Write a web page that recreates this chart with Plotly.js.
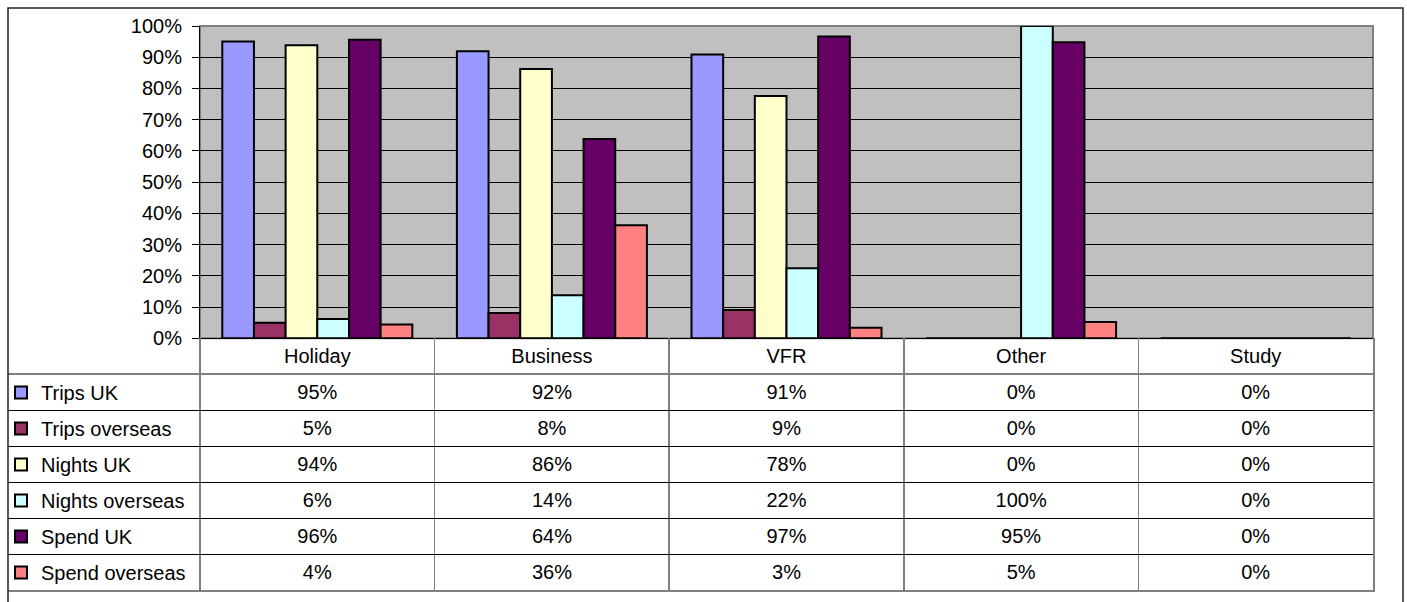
<!DOCTYPE html>
<html>
<head>
<meta charset="utf-8">
<script src="https://cdn.plot.ly/plotly-3.0.1.min.js"></script>
<style>
  html, body { margin: 0; padding: 0; background: #ffffff; }
  #chart { width: 1407px; height: 602px; }
</style>
</head>
<body>
<div id="chart"></div>
<script>
// ---- Data ----
var categories = ['Holiday', 'Business', 'VFR', 'Other', 'Study'];
var seriesNames = ['Trips UK', 'Trips overseas', 'Nights UK', 'Nights overseas', 'Spend UK', 'Spend overseas'];
var tripsUK        = [95.0, 91.9, 90.9, 0, 0];
var tripsOverseas  = [5.0, 8.1, 9.1, 0, 0];
var nightsUK       = [93.8, 86.2, 77.6, 0, 0];
var nightsOverseas = [6.2, 13.8, 22.4, 100, 0];
var spendUK        = [95.6, 63.8, 96.6, 94.8, 0];
var spendOverseas  = [4.4, 36.2, 3.4, 5.2, 0];
var yTickValues = [0, 10, 20, 30, 40, 50, 60, 70, 80, 90, 100];
var yTickLabels = yTickValues.map(function (v) { return v + '%'; });

// ---- Styles ----
var seriesValues = [tripsUK, tripsOverseas, nightsUK, nightsOverseas, spendUK, spendOverseas];
var seriesColors = ['#9999FF', '#993366', '#FFFFCC', '#CCFFFF', '#660066', '#FF8080'];
var FONT = 'Liberation Sans, Arial, sans-serif';
var FS = 20;

// layout geometry (pixels)
var W = 1407, H = 602;
var mL = 0, mR = 0, mT = 0, mB = 0;
var pw = W - mL - mR, ph = H - mT - mB;
function px2x(p) { return (p - mL) / pw; }
function py2y(p) { return (H - mB - p) / ph; }

var frameLeft = 8, frameRight = 1403, frameTop = 8;
var plotLeft = 200, plotRight = 1373, plotTop = 26, plotBottom = 338.3, tableBottom = 590;
var labelColW = plotLeft - frameLeft;
var catW = (plotRight - plotLeft) / categories.length;

var traces = [];
seriesNames.forEach(function (name, i) {
  traces.push({
    type: 'bar',
    name: name,
    x: categories,
    y: seriesValues[i],
    legendgroup: 'g' + i,
    marker: { color: seriesColors[i], line: { color: '#000000', width: 2 } },
    hoverinfo: 'skip'
  });
});

// data table (cells built from the same arrays)
var tableCols = [seriesNames.map(function () { return ''; })];
categories.forEach(function (c, ci) {
  tableCols.push(seriesValues.map(function (s) { return Math.round(s[ci]) + '%'; }));
});
var colWidths = [labelColW / catW];
categories.forEach(function () { colWidths.push(1); });

traces.push({
  type: 'table',
  domain: { x: [px2x(frameLeft), px2x(plotRight)], y: [0.005, py2y(plotBottom + 2)] },
  columnwidth: colWidths,
  header: {
    values: [''].concat(categories),
    height: 36,
    align: 'center',
    fill: { color: 'rgba(0,0,0,0)' },
    line: { color: 'rgba(0,0,0,0)', width: 0 },
    font: { family: FONT, size: FS, color: '#000000' }
  },
  cells: {
    values: tableCols,
    height: 36,
    align: 'center',
    fill: { color: 'rgba(0,0,0,0)' },
    line: { color: 'rgba(0,0,0,0)', width: 0 },
    font: { family: FONT, size: FS, color: '#000000' }
  },
  hoverinfo: 'skip'
});

// empty trace to hold the table grid subplot
traces.push({ type: 'scatter', x: [], y: [], xaxis: 'x2', yaxis: 'y2', showlegend: false, hoverinfo: 'skip' });

var nRows = seriesNames.length;
var rowLines = [];
for (var r = 1; r < nRows; r++) rowLines.push(r);
var colLines = [];
for (var c = 0; c < categories.length; c++) colLines.push(c - 0.5);

var layout = {
  width: W, height: H,
  margin: { l: mL, r: mR, t: mT, b: mB, pad: 0 },
  paper_bgcolor: '#ffffff',
  plot_bgcolor: 'rgba(0,0,0,0)',
  font: { family: FONT, size: FS, color: '#000000' },
  barmode: 'group',
  bargap: 0.19,
  bargroupgap: 0,
  showlegend: true,
  legend: {
    x: px2x(1), xanchor: 'left',
    y: py2y(373), yanchor: 'top',
    bgcolor: 'rgba(0,0,0,0)', borderwidth: 0,
    font: { family: FONT, size: FS, color: '#000000' },
    tracegroupgap: 7,
    traceorder: 'grouped',
    itemclick: false, itemdoubleclick: false
  },
  xaxis: {
    type: 'category',
    domain: [px2x(plotLeft), px2x(plotRight)],
    range: [-0.5, categories.length - 0.5],
    showline: true, linecolor: '#000000', linewidth: 1,
    showgrid: false, zeroline: false,
    ticks: '', showticklabels: false,
    fixedrange: true
  },
  yaxis: {
    domain: [py2y(plotBottom), py2y(plotTop)],
    range: [0, 100],
    tickmode: 'array', tickvals: yTickValues, ticktext: yTickLabels,
    showline: true, linecolor: '#000000', linewidth: 1,
    showgrid: true, gridcolor: '#000000', gridwidth: 1,
    zeroline: false,
    ticks: 'outside', ticklen: 7, tickcolor: '#000000', tickwidth: 1,
    tickfont: { family: FONT, size: FS, color: '#000000' },
    ticklabelstandoff: 6,
    fixedrange: true
  },
  xaxis2: {
    anchor: 'y2',
    domain: [px2x(frameLeft), px2x(plotRight)],
    range: [-0.5 - labelColW / catW, categories.length - 0.5],
    tickmode: 'array', tickvals: colLines,
    showgrid: true, gridcolor: '#808080', gridwidth: 1.5,
    zeroline: false,
    showline: true, linecolor: '#808080', linewidth: 1.5,
    ticks: '', showticklabels: false,
    fixedrange: true
  },
  yaxis2: {
    anchor: 'x2',
    side: 'right',
    domain: [py2y(tableBottom), py2y(plotBottom)],
    range: [nRows, -1],
    tickmode: 'array', tickvals: rowLines,
    showgrid: true, gridcolor: '#000000', gridwidth: 1,
    zeroline: true, zerolinecolor: '#808080', zerolinewidth: 2,
    showline: true, linecolor: '#808080', linewidth: 1.5,
    ticks: '', showticklabels: false,
    fixedrange: true
  },
  shapes: [
    { type: 'rect', xref: 'x domain', yref: 'y domain', x0: 0, x1: 1, y0: 0, y1: 1,
      fillcolor: '#C0C0C0', line: { color: '#808080', width: 2 }, layer: 'below' },
    { type: 'rect', xref: 'paper', yref: 'paper', x0: px2x(frameLeft), x1: px2x(frameRight), y0: -0.05, y1: py2y(frameTop),
      fillcolor: 'rgba(0,0,0,0)', line: { color: '#222222', width: 1.5 }, layer: 'above' }
  ],
  hovermode: false
};

Plotly.newPlot('chart', traces, layout, { staticPlot: true, displayModeBar: false });
</script>
</body>
</html>
